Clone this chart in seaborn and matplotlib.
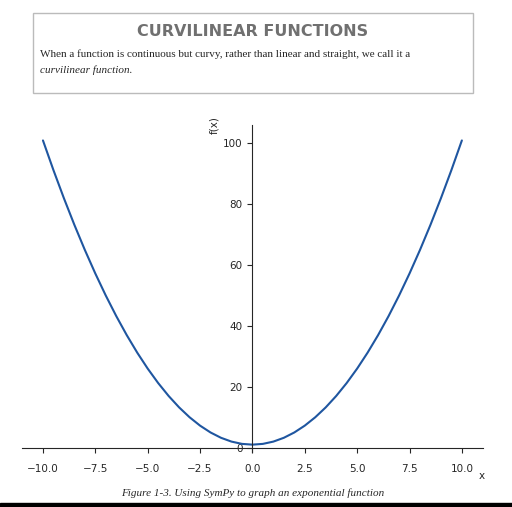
import matplotlib
matplotlib.use("Agg")
import matplotlib.pyplot as plt
import seaborn as sns
import pandas as pd
from matplotlib.patches import Rectangle

sns.set_style("ticks")
plt.rcParams['font.family'] = ['DejaVu Sans']

x_vals = [-10, -9.5, -9, -8.5, -8, -7.5, -7, -6.5, -6, -5.5, -5, -4.5, -4, -3.5, -3, -2.5, -2, -1.5, -1, -0.5,
          0, 0.5, 1, 1.5, 2, 2.5, 3, 3.5, 4, 4.5, 5, 5.5, 6, 6.5, 7, 7.5, 8, 8.5, 9, 9.5, 10]
y_vals = [101, 91.25, 82, 73.25, 65, 57.25, 50, 43.25, 37, 31.25, 26, 21.25, 17, 13.25, 10, 7.25, 5, 3.25, 2, 1.25,
          1, 1.25, 2, 3.25, 5, 7.25, 10, 13.25, 17, 21.25, 26, 31.25, 37, 43.25, 50, 57.25, 65, 73.25, 82, 91.25, 101]
xticks = [-10.0, -7.5, -5.0, -2.5, 0.0, 2.5, 5.0, 7.5, 10.0]
yticks = [0, 20, 40, 60, 80, 100]

df = pd.DataFrame({"x": x_vals, "y": y_vals})

fig = plt.figure(figsize=(5.12, 5.07), dpi=100)
ax = fig.add_axes([0.043, 0.108, 0.9, 0.645])
sns.lineplot(data=df, x="x", y="y", ax=ax, color="#1f56a0", linewidth=1.5)
ax.set_xlim(-11, 11)
ax.set_ylim(-1.5, 106)
ax.spines['left'].set_position(('data', 0))
ax.spines['bottom'].set_position(('data', 0))
ax.spines['right'].set_visible(False)
ax.spines['top'].set_visible(False)
ax.set_xticks(xticks)
ax.set_xticklabels([f"{t:.1f}".replace("-", "−") for t in xticks])
ax.set_yticks(yticks)
ax.tick_params(labelsize=7.5)
ax.xaxis.set_tick_params(pad=8)
ax.set_xlabel("")
ax.set_ylabel("")
fig.text(0.941, 0.061, "x", fontsize=7.5, ha="center", va="center")
fig.text(0.418, 0.753, "f(x)", fontsize=7.5, rotation=90, ha="center", va="center")

fig.patches.append(Rectangle((33/512, 1-93/507), 440/512, 80/507, transform=fig.transFigure,
                             fill=False, edgecolor="#bbbbbb", linewidth=1))
fig.text(253/512, 1-32/507, "CURVILINEAR FUNCTIONS", ha="center", va="center",
         fontsize=11.5, fontweight="bold", color="#707070")
fig.text(40/512, 1-54/507, "When a function is continuous but curvy, rather than linear and straight, we call it a",
         ha="left", va="center", fontsize=8, family="Liberation Serif")
fig.text(40/512, 1-70/507, "curvilinear function.", ha="left", va="center", fontsize=8,
         family="Liberation Serif", style="italic")
fig.text(253/512, 1-493/507, "Figure 1-3. Using SymPy to graph an exponential function", ha="center",
         va="center", fontsize=8, family="Liberation Serif", style="italic")
fig.patches.append(Rectangle((0, 0), 1, 4/507, transform=fig.transFigure, color="black"))

fig.savefig("out.png", dpi=100)
